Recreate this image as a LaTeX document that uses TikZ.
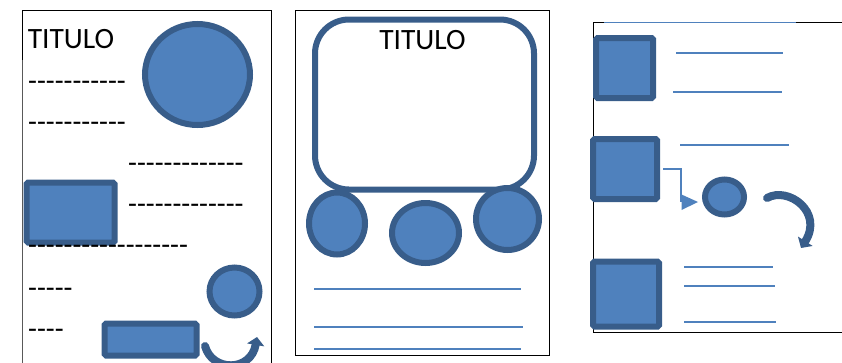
\documentclass[tikz,border=0pt]{standalone}
\usepackage{fontspec}
\setmainfont{Carlito}
\usetikzlibrary{arrows.meta}
\definecolor{fillblue}{HTML}{4F81BD}
\definecolor{edgeblue}{HTML}{385D8A}
\tikzset{
  x=1pt,y=-1pt,
  frame/.style={draw=black,line width=1pt},
  shapebox/.style={draw=edgeblue,fill=fillblue,line width=6pt,rounded corners=1.5pt,inner sep=0pt,outer sep=0pt},
  oval/.style={draw=edgeblue,fill=fillblue,line width=6pt},
  rule/.style={draw=fillblue,line width=1.3pt},
  dashtext/.style={anchor=west,inner sep=0pt,yshift=-4.5pt,font=\fontsize{29}{29}\selectfont},
  titletext/.style={inner sep=0pt,font=\fontsize{29.5}{30}\selectfont},
  curved/.style={draw=edgeblue,line width=8pt,line cap=round,-{Triangle[length=8pt,width=17pt]}}
}
\newcommand{\boxat}[5]{\node[shapebox,minimum width=#4pt,minimum height=#5pt] (#1) at (#2,#3) {};}
\newcommand{\ovalat}[5]{\draw[oval] (#2,#3) ellipse [x radius=#4pt,y radius=#5pt]; \coordinate (#1) at (#2,#3);}
\begin{document}
\begin{tikzpicture}
\useasboundingbox (0,0) rectangle (842,362);
\clip (0,0) rectangle (842,362);
% page frames
\draw[frame] (22.5,370) -- (22.5,10.5) -- (271.5,10.5) -- (271.5,370);
\draw[draw=black!65,line width=1pt] (22.5,370) -- (22.5,60);
\draw[frame] (295.5,10.5) rectangle (549.5,355.5);
\draw[frame] (845,22.5) -- (593.5,22.5) -- (593.5,332.5) -- (845,332.5);
% left page
\node[titletext] (t1) at (71,39) {TITULO};
\ovalat{c1}{197.5}{74.5}{52.5}{50.5}
\node[dashtext] (d1) at (28,81) {-{}-{}-{}-{}-{}-{}-{}-{}-{}-{}-{}};
\node[dashtext] (d2) at (28,122) {-{}-{}-{}-{}-{}-{}-{}-{}-{}-{}-{}};
\node[dashtext] (d3) at (128,163) {-{}-{}-{}-{}-{}-{}-{}-{}-{}-{}-{}-{}-{}};
\node[dashtext] (d4) at (128,204) {-{}-{}-{}-{}-{}-{}-{}-{}-{}-{}-{}-{}-{}};
\boxat{r1}{70.5}{212.5}{88}{60}
\node[dashtext] (d5) at (28,245) {-{}-{}-{}-{}-{}-{}-{}-{}-{}-{}-{}-{}-{}-{}-{}-{}-{}-{}};
\node[dashtext] (d6) at (28,288) {-{}-{}-{}-{}-{}};
\node[dashtext] (d7) at (28,329) {-{}-{}-{}-{}};
\ovalat{c2}{234.5}{291.5}{25}{24}
\boxat{r2}{150.5}{339.5}{92}{32}
\coordinate (a1s) at (205,346);
\coordinate (a1e) at (257,337);
\draw[curved] (a1s) .. controls (212,372) and (251,372) .. (a1e);
% middle page
\node[draw=edgeblue,line width=6pt,rounded corners=34pt,minimum width=219pt,minimum height=170pt,inner sep=0pt,outer sep=0pt] (big) at (424.5,104.5) {};
\node[titletext] (t2) at (422.5,40) {TITULO};
\ovalat{c3}{337}{223.5}{28}{31}
\ovalat{c4}{425.5}{233}{33.5}{30}
\ovalat{c5}{507.5}{219}{31.5}{31}
\coordinate (l1a) at (314,289); \coordinate (l1b) at (521,289);
\coordinate (l2a) at (314,327); \coordinate (l2b) at (523,327);
\coordinate (l3a) at (314,349); \coordinate (l3b) at (521,349);
\draw[rule] (l1a) -- (l1b);
\draw[rule] (l2a) -- (l2b);
\draw[rule] (l3a) -- (l3b);
% right page
\draw[rule] (604,22.5) -- (796,22.5);
\boxat{s1}{624.5}{68}{57}{60}
\boxat{s2}{625}{169}{64}{60}
\boxat{s3}{626}{294}{66}{65}
\draw[rule] (676,53) -- (783,53);
\draw[rule] (673,92) -- (782,92);
\draw[rule] (680,145) -- (789,145);
\draw[rule] (684,267) -- (773,267);
\draw[rule] (684,286) -- (775,286);
\draw[rule] (684,322) -- (776,322);
\ovalat{c6}{724.5}{197}{19.5}{17.5}
\coordinate (k1) at (681,169);
\coordinate (k2) at (681,202);
\coordinate (k3) at (698,202);
\draw[rule,fill=none] ([xshift=6pt]s2.east) -- (k1) -- (k2);
\fill[fillblue] (681.5,194.5) -- (k3) -- (681.5,210) -- cycle;
\coordinate (a2s) at (767,198);
\coordinate (a2e) at (801,248);
\draw[curved] (a2s) .. controls (788,186) and (824,212) .. (a2e);
\end{tikzpicture}
\end{document}
